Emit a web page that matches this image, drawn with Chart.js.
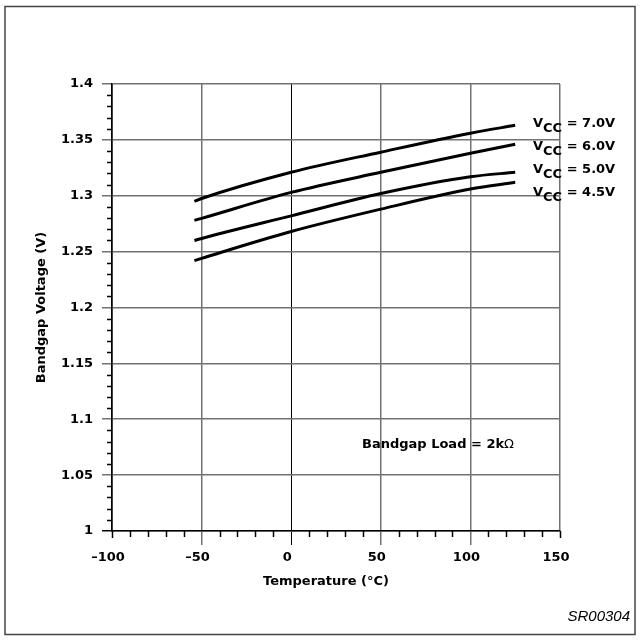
<!DOCTYPE html>
<html>
<head>
<meta charset="utf-8">
<style>
  html, body { margin: 0; padding: 0; background: #fff; }
  #chart { display: block; }
</style>
<script src="https://cdn.jsdelivr.net/npm/chart.js@4.4.1/dist/chart.umd.min.js"></script>
</head>
<body>
<canvas id="chart" width="641" height="640"></canvas>
<script>
// temperatures (°C) at which the curves were read
var temps = [-54, -50, 0, 50, 100, 125];

// bandgap voltage (V) per supply voltage
var vcc70 = [1.295, 1.2975, 1.321, 1.339, 1.356, 1.363];
var vcc60 = [1.278, 1.2798, 1.303, 1.321, 1.338, 1.346];
var vcc50 = [1.260, 1.2618, 1.282, 1.302, 1.317, 1.321];
var vcc45 = [1.242, 1.2440, 1.268, 1.288, 1.306, 1.312];

var seriesLabels = ['7.0V', '6.0V', '5.0V', '4.5V'];

var xMin = -100, xMax = 150, xStep = 50, xMinor = 10;
var yMin = 1, yMax = 1.4, yStep = 0.05, yMinor = 0.01;

var FONT = "'DejaVu Sans', sans-serif";
var GRID = '#727272';

function pts(ys) {
  return temps.map(function (t, i) { return { x: t, y: ys[i] }; });
}

function line(ys) {
  return {
    data: pts(ys),
    borderColor: '#000',
    borderWidth: 3,
    pointRadius: 0,
    fill: false,
    cubicInterpolationMode: 'monotone'
  };
}

function fmt(v) {
  var s = String(Math.round(v * 100) / 100);
  return s.charAt(0) === '-' ? '\u2013' + s.slice(1) : s;
}

var extras = {
  id: 'extras',
  afterDraw: function (chart) {
    var ctx = chart.ctx;
    var xs = chart.scales.x, ys = chart.scales.y;
    var area = chart.chartArea;
    var i, v, p;

    ctx.save();
    ctx.strokeStyle = '#000';
    ctx.lineWidth = 1.5;

    // minor ticks on y axis
    for (i = 0; i <= Math.round((yMax - yMin) / yMinor); i++) {
      if (i % 5 === 0) continue;
      p = Math.round(ys.getPixelForValue(yMin + i * yMinor)) + 0.5;
      ctx.beginPath();
      ctx.moveTo(area.left - 5, p);
      ctx.lineTo(area.left, p);
      ctx.stroke();
    }
    // minor ticks on x axis, plus short end ticks
    for (i = 0; i <= Math.round((xMax - xMin) / xMinor); i++) {
      v = xMin + i * xMinor;
      var len = 6;
      if (v % xStep === 0) {
        if (v !== xMin && v !== xMax) continue;
        len = 7;
      }
      p = Math.round(xs.getPixelForValue(v)) + 0.5;
      ctx.beginPath();
      ctx.moveTo(p, area.bottom);
      ctx.lineTo(p, area.bottom + len);
      ctx.stroke();
    }

    // axis titles
    ctx.fillStyle = '#000';
    ctx.font = 'bold 13px ' + FONT;
    ctx.textAlign = 'center';
    ctx.textBaseline = 'alphabetic';
    ctx.fillText('Temperature (\u00B0C)', 326, 585);

    ctx.save();
    ctx.translate(45, (area.top + area.bottom) / 2);
    ctx.rotate(-Math.PI / 2);
    ctx.fillText('Bandgap Voltage (V)', 0, 0);
    ctx.restore();

    // series labels
    ctx.textAlign = 'left';
    seriesLabels.forEach(function (lab, k) {
      var base = 127 + k * 23;
      var x = 533;
      ctx.font = 'bold 13px ' + FONT;
      ctx.fillText('V', x, base);
      x += ctx.measureText('V').width;
      ctx.fillText('CC', x, base + 5);
      x += ctx.measureText('CC').width;
      ctx.fillText(' = ' + lab, x, base);
    });

    // load note
    ctx.font = 'bold 13px ' + FONT;
    var note = 'Bandgap Load = 2k';
    ctx.fillText(note, 362, 448);
    var w = ctx.measureText(note).width;
    ctx.font = '13px ' + FONT;
    ctx.fillText('\u03A9', 362 + w, 448);

    // figure code
    ctx.font = 'italic 15px "Liberation Sans", Arial, sans-serif';
    ctx.textAlign = 'right';
    ctx.fillText('SR00304', 630, 621);

    // outer frame
    ctx.strokeStyle = '#444';
    ctx.lineWidth = 1.5;
    ctx.strokeRect(5, 6.5, 630, 628);
    ctx.restore();
  }
};

new Chart(document.getElementById('chart').getContext('2d'), {
  type: 'line',
  data: {
    datasets: [line(vcc70), line(vcc60), line(vcc50), line(vcc45)]
  },
  options: {
    responsive: false,
    animation: false,
    devicePixelRatio: 1,
    layout: { padding: { left: 0, right: 81, top: 84, bottom: 0 } },
    plugins: { legend: { display: false }, tooltip: { enabled: false } },
    scales: {
      x: {
        type: 'linear',
        min: xMin,
        max: xMax,
        afterFit: function (s) { s.height = 109; },
        afterBuildTicks: function (s) {
          s.ticks = [];
          for (var v = xMin; v <= xMax; v += xStep) s.ticks.push({ value: v });
        },
        border: { display: true, color: '#000', width: 1.5 },
        grid: {
          color: function (c) {
            var v = c.tick && c.tick.value;
            return v === 0 || v === xMin ? '#000' : GRID;
          },
          lineWidth: function (c) { return c.tick && c.tick.value === 0 ? 1 : 1.5; },
          tickColor: function (c) {
            var v = c.tick && c.tick.value;
            if (v === xMin || v === xMax) return 'rgba(0,0,0,0)';
            return v === 0 ? '#000' : GRID;
          },
          tickLength: 14
        },
        ticks: {
          padding: 5,
          labelOffset: -4,
          color: '#000',
          font: { family: FONT, size: 13, weight: 'bold' },
          callback: function (v) { return fmt(v); }
        }
      },
      y: {
        type: 'linear',
        min: yMin,
        max: yMax,
        afterFit: function (s) { s.width = 112; },
        afterBuildTicks: function (s) {
          s.ticks = [];
          for (var i = 0; i <= Math.round((yMax - yMin) / yStep); i++) {
            s.ticks.push({ value: Math.round((yMin + i * yStep) * 100) / 100 });
          }
        },
        border: { display: true, color: '#000', width: 1.5 },
        grid: {
          color: GRID,
          lineWidth: 1.5,
          tickColor: function (c) { return c.tick && c.tick.value === yMin ? '#000' : GRID; },
          tickLength: 10
        },
        ticks: {
          padding: 9,
          color: '#000',
          font: { family: FONT, size: 13, weight: 'bold' },
          callback: function (v) { return fmt(v); }
        }
      }
    }
  },
  plugins: [extras]
});
</script>
</body>
</html>
